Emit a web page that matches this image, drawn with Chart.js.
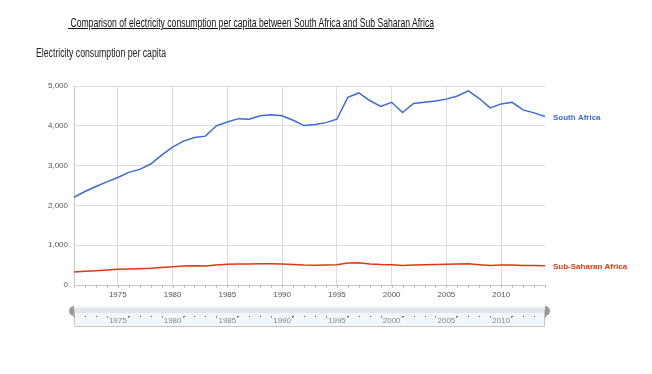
<!DOCTYPE html>
<html>
<head>
<meta charset="utf-8">
<script src="https://cdn.jsdelivr.net/npm/chart.js@4.4.1/dist/chart.umd.min.js"></script>
<style>
  html, body { margin: 0; padding: 0; background: #fff; width: 652px; height: 374px; overflow: hidden; }
  #wrap { position: relative; width: 652px; height: 374px; }
  #c { position: absolute; left: 0; top: 0; }
  .t { position: absolute; white-space: pre; transform-origin: 0 0; color: #111; }
  #title { left: 68px; top: 16px; font: 12px "Liberation Sans Narrow", "Liberation Sans", Arial, sans-serif; text-decoration: underline; }
  #sub { left: 36px; top: 46px; font: 12px "Liberation Sans Narrow", "Liberation Sans", Arial, sans-serif; color: #222; }
</style>
</head>
<body>
<div id="wrap">
  <canvas id="c" width="652" height="374"></canvas>
  <span class="t" id="title"> Comparison of electricity consumption per capita between South Africa and Sub Saharan Africa</span>
  <span class="t" id="sub">Electricity consumption per capita</span>
</div>
<script>
const years = [1971,1972,1973,1974,1975,1976,1977,1978,1979,1980,1981,1982,1983,1984,1985,1986,1987,1988,1989,1990,1991,1992,1993,1994,1995,1996,1997,1998,1999,2000,2001,2002,2003,2004,2005,2006,2007,2008,2009,2010,2011,2012,2013,2014];
const southAfrica = [2200,2350,2475,2590,2700,2830,2905,3040,3265,3465,3615,3705,3740,4000,4095,4180,4165,4250,4275,4250,4140,4005,4030,4080,4165,4715,4825,4635,4485,4590,4335,4560,4590,4625,4670,4750,4880,4685,4450,4550,4590,4400,4325,4235];
const subSaharan = [325,345,360,375,395,405,410,420,440,460,475,485,480,500,520,530,530,535,535,530,515,500,495,500,510,555,560,530,515,510,490,505,510,515,520,530,535,510,490,505,505,490,490,485];
const seriesNames = ["South Africa", "Sub-Saharan Africa"];
const seriesColors = ["#3b6bd6", "#dc3912"];
const yTicks = [0,1000,2000,3000,4000,5000];
const xLabelYears = [1975,1980,1985,1990,1995,2000,2005,2010];

function fit(id, target) {
  const el = document.getElementById(id);
  const w = el.getBoundingClientRect().width;
  el.style.transform = 'scaleX(' + (target / w) + ')';
}
fit('title', 366);
fit('sub', 130);

const tickFont = { family: "'Liberation Sans', Arial, sans-serif", size: 8 };

const sidePlugin = {
  id: 'side',
  afterDatasetsDraw(chart) {
    const ctx = chart.ctx;
    const xs = chart.scales.x, ys = chart.scales.y;
    const area = chart.chartArea;
    ctx.save();
    ctx.font = "bold 8px 'Liberation Sans', Arial, sans-serif";
    ctx.textBaseline = 'middle';
    ctx.textAlign = 'left';
    chart.data.datasets.forEach((ds, i) => {
      const last = ds.data[ds.data.length - 1];
      ctx.fillStyle = seriesColors[i];
      ctx.fillText(seriesNames[i], area.right + 8, ys.getPixelForValue(last.y) + 1);
    });
    ctx.strokeStyle = '#bbb';
    ctx.lineWidth = 1;
    years.forEach(y => {
      const px = Math.round(xs.getPixelForValue(y)) + 0.5;
      ctx.beginPath();
      ctx.moveTo(px, area.bottom);
      ctx.lineTo(px, area.bottom + 3);
      ctx.stroke();
    });
    const L = area.left, R = area.right;
    const top = 306, bot = 326;
    ctx.fillStyle = '#f1f8fc';
    ctx.fillRect(L, top, R - L, bot - top);
    ctx.fillStyle = '#dfe5e8';
    ctx.fillRect(L, top + 2, R - L, 5);
    ctx.strokeStyle = '#c4c8ca';
    ctx.beginPath();
    ctx.moveTo(L + 0.5, top + 4);
    ctx.lineTo(L + 0.5, bot + 0.5);
    ctx.lineTo(R - 0.5, bot + 0.5);
    ctx.lineTo(R - 0.5, top + 4);
    ctx.stroke();
    ctx.fillStyle = '#999';
    ctx.beginPath();
    ctx.arc(L, top + 5, 5, Math.PI / 2, Math.PI * 1.5);
    ctx.closePath();
    ctx.fill();
    ctx.beginPath();
    ctx.arc(R, top + 5, 5, -Math.PI / 2, Math.PI / 2);
    ctx.closePath();
    ctx.fill();
    ctx.fillStyle = '#555';
    years.forEach(y => {
      const px = Math.round(xs.getPixelForValue(y));
      if (y % 5 === 0) return;
      ctx.fillRect(px, 316, 1, 1);
    });
    ctx.fillStyle = '#888';
    ctx.font = "8px 'Liberation Sans', Arial, sans-serif";
    ctx.textAlign = 'center';
    ctx.textBaseline = 'middle';
    xLabelYears.forEach(y => {
      const px = xs.getPixelForValue(y);
      ctx.fillRect(Math.round(px) - 11, 316, 1, 2);
      ctx.fillRect(Math.round(px) + 10, 316, 1, 2);
      ctx.fillText(String(y), px, 321);
    });
    ctx.restore();
  }
};

new Chart(document.getElementById('c'), {
  type: 'line',
  data: {
    datasets: [
      { label: seriesNames[0], data: years.map((y, i) => ({ x: y, y: southAfrica[i] })), borderColor: seriesColors[0], borderWidth: 1.5, pointRadius: 0, tension: 0, fill: false },
      { label: seriesNames[1], data: years.map((y, i) => ({ x: y, y: subSaharan[i] })), borderColor: seriesColors[1], borderWidth: 1.5, pointRadius: 0, tension: 0, fill: false }
    ]
  },
  options: {
    responsive: false,
    animation: false,
    events: [],
    layout: { padding: { left: 0, right: 107, top: 86, bottom: 69 } },
    plugins: { legend: { display: false }, tooltip: { enabled: false }, title: { display: false } },
    scales: {
      x: {
        type: 'linear', min: 1971, max: 2014,
        afterBuildTicks(s) { s.ticks = xLabelYears.map(v => ({ value: v })); },
        afterFit(s) { s.height = 20; },
        grid: { color: '#dcdcdc', drawTicks: false },
        border: { display: true, color: '#c8c8c8' },
        ticks: { font: tickFont, color: '#555', padding: 5, maxRotation: 0, callback: v => String(v) }
      },
      y: {
        min: 0, max: 5000,
        afterBuildTicks(s) { s.ticks = yTicks.map(v => ({ value: v })); },
        afterFit(s) { s.width = 74; },
        grid: { color: '#dcdcdc', drawTicks: false },
        border: { display: true, color: '#c8c8c8' },
        ticks: { font: tickFont, color: '#555', padding: 6, callback: v => v.toLocaleString('en-US') }
      }
    }
  },
  plugins: [sidePlugin]
});
</script>
</body>
</html>
